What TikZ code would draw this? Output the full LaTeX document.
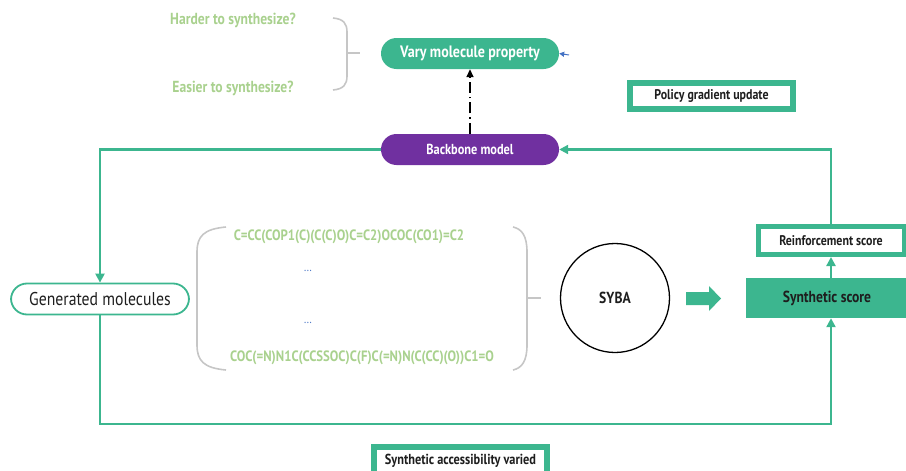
\documentclass[tikz,border=0pt]{standalone}
\usepackage{fontspec}
\setmainfont{PT Sans}[FakeStretch=0.85]
\usetikzlibrary{arrows.meta}
\definecolor{mint}{HTML}{3CB68F}
\definecolor{palegreen}{HTML}{A9D18E}
\definecolor{grape}{HTML}{7030A0}
\definecolor{bracegray}{HTML}{C6C6C6}
\definecolor{dotblue}{HTML}{4472C4}
\definecolor{ink}{HTML}{1E1E1E}
\tikzset{
  pill/.style={rounded corners=15.5pt, minimum width=178pt, minimum height=31pt, inner sep=0pt, text=white},
  scorebox/.style={draw=mint, fill=white, text=ink, inner sep=0pt,
    font=\bfseries\fontsize{14}{16}\selectfont},
  loop/.style={draw=mint, line width=2.2pt, -{Triangle[length=9pt,width=9pt]}},
  smiles/.style={text=palegreen, font=\bfseries\fontsize{15}{17}\selectfont},
  question/.style={text=palegreen, font=\bfseries\fontsize{16}{18}\selectfont},
  gap/.style={text=dotblue, font=\fontsize{12}{14}\selectfont},
  bracket/.style={draw=bracegray, line width=1.6pt}
}
\begin{document}
\begin{tikzpicture}[x=1pt,y=-1pt]
	\useasboundingbox (0,0) rectangle (906,471);
	% property choice
	\node[question] (hard) at (233,20) {Harder to synthesize?};
	\node[question] (easy) at (233,88) {Easier to synthesize?};
	\draw[bracket] (333,18) .. controls (344,19) and (347,24) .. (347,32) -- (347,76) .. controls (347,84) and (344,89) .. (333,90);
	\draw[bracket] (347,53) -- (360,53);
	\node[pill, fill=mint, font=\bfseries\fontsize{16.5}{18}\selectfont] (vary) at (470,53.5) {Vary molecule property};
	\coordinate (stub) at (569,55);
	\draw[dotblue, line width=1pt, -{Triangle[length=5pt,width=5pt]}] (stub) -- (vary.east);
	\node[pill, fill=grape, font=\bfseries\fontsize{14.5}{17}\selectfont] (backbone) at (470,149.5) {Backbone model};
	\draw[black, line width=1.6pt, dash pattern=on 11pt off 4pt on 1.5pt off 4pt, -{Triangle[length=8pt,width=7pt]}] (backbone.north) -- (vary.south);
	\node[scorebox, line width=6pt, minimum width=163pt, minimum height=26pt] (policy) at (711.5,96) {Policy gradient update};
	% generation loop
	\node[draw=mint, line width=1.8pt, rounded corners=16pt, fill=white, minimum width=178pt, minimum height=31pt, inner sep=0pt,
		text=ink, font=\fontsize{18.5}{20}\selectfont] (gen) at (100,299) {Generated molecules};
	\draw[bracket] (226,227) .. controls (204,229) and (197,236) .. (197,252) -- (197,345) .. controls (197,361) and (204,368) .. (226,370);
	\draw[bracket] (513,227) .. controls (522,229) and (527,236) .. (527,252) -- (527,345) .. controls (527,361) and (522,368) .. (513,370);
	\draw[bracket] (527,298) -- (541,298);
	\node[smiles] (top) at (349,237) {C=CC(COP1(C)(C(C)O)C=C2)OCOC(CO1)=C2};
	\node[gap] (dots1) at (308,271) {...};
	\node[gap] (dots2) at (308,323) {...};
	\node[smiles] (bottom) at (362,358) {COC(=N)N1C(CCSSOC)C(F)C(=N)N(C(CC)(O))C1=O};
	\node[draw=black, line width=1.3pt, circle, minimum size=109pt, inner sep=0pt,
		text=ink, font=\bfseries\fontsize{16}{18}\selectfont] (syba) at (615,298) {SYBA};
	\fill[mint] (686,292) -- (709,292) -- (709,286) -- (721,298.5) -- (709,311) -- (709,305) -- (686,305) -- cycle;
	\node[fill=mint, minimum width=162pt, minimum height=40pt, inner sep=0pt,
		text=ink, font=\bfseries\fontsize{16}{18}\selectfont] (synth) at (827,298) {Synthetic score};
	\node[scorebox, line width=5pt, minimum width=146pt, minimum height=28pt] (reinf) at (831,240.5) {Reinforcement score};
	\draw[loop] (synth.north -| reinf.south) -- (reinf.south);
	\draw[loop] (reinf.north) |- (backbone.east);
	\draw[loop] (backbone.west) -| (gen.north);
	\coordinate (low) at (831,424);
	\draw[loop] (gen.south) |- (low) -- (synth.south -| low);
	\node[scorebox, line width=6pt, minimum width=173pt, minimum height=34pt] (varied) at (460.5,464) {};
	\node[text=ink, font=\bfseries\fontsize{14.5}{16}\selectfont] (variedtext) at (460.5,461) {Synthetic accessibility varied};
\end{tikzpicture}
\end{document}
